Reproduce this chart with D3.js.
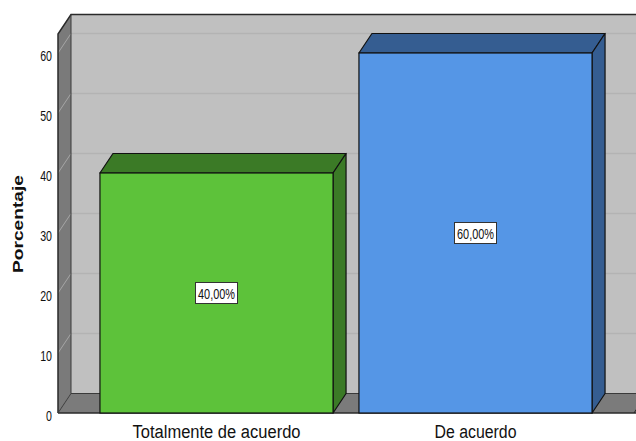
<!DOCTYPE html>
<html>
<head>
<meta charset="utf-8">
<script src="https://cdn.jsdelivr.net/npm/d3@7"></script>
<style>
  html, body { margin: 0; padding: 0; background: #ffffff; }
  svg { display: block; }
  text { font-family: "Liberation Sans", Arial, sans-serif; }
</style>
</head>
<body>
<svg id="chart" width="636" height="441"></svg>
<script>
// ---- Data ----
const categories = ["Totalmente de acuerdo", "De acuerdo"];
const values = [40, 60];
const valueLabels = ["40,00%", "60,00%"];
const yTicks = [0, 10, 20, 30, 40, 50, 60];
const yTitle = "Porcentaje";

// ---- Styles ----
const frontColors = ["#5dc23a", "#5596e6"];
const darkColors = ["#3b7a26", "#355d91"];
const wallColor = "#c0c0c0";
const sideColor = "#7a7a7a";
const floorColor = "#7b7b7b";

// ---- Layout ----
const W = 636, H = 441;
const x0 = 58, x1 = 634;       // front plot extent
const yBase = 413;             // front floor
const dx = 13, dy = 19.5;      // depth offset
const topFront = 34;           // front-equivalent y of wall top

const svg = d3.select("#chart");

const x = d3.scaleBand().domain(categories).range([x0, x1])
  .paddingInner(0.1).paddingOuter(0.162);
const y = d3.scaleLinear().domain([0, 60]).range([yBase, 53]);

// back wall
svg.append("rect")
  .attr("x", x0 + dx).attr("y", topFront - dy)
  .attr("width", x1 - x0 + 20).attr("height", yBase - topFront)
  .attr("fill", wallColor);

// gridlines on back wall
svg.append("g").selectAll("line").data(yTicks.filter(d => d > 0)).join("line")
  .attr("x1", x0 + dx).attr("x2", W + 20)
  .attr("y1", d => y(d) - dy).attr("y2", d => y(d) - dy)
  .attr("stroke", "#b3b3b3").attr("stroke-width", 1.5);

// left side wall
svg.append("path")
  .attr("d", `M${x0},${topFront} L${x0 + dx},${topFront - dy} L${x0 + dx},${yBase - dy} L${x0},${yBase} Z`)
  .attr("fill", sideColor);

// side wall gridline diagonals
svg.append("g").selectAll("line").data(yTicks.filter(d => d > 0)).join("line")
  .attr("x1", x0).attr("x2", x0 + dx)
  .attr("y1", d => y(d)).attr("y2", d => y(d) - dy)
  .attr("stroke", "#a6a6a6").attr("stroke-width", 1);

// floor
svg.append("path")
  .attr("d", `M${x0},${yBase} L${x0 + dx},${yBase - dy} L${x1 + dx + 20},${yBase - dy} L${x1 + 20},${yBase} Z`)
  .attr("fill", floorColor);
// floor right edge diagonal
svg.append("line")
  .attr("x1", x1).attr("y1", yBase).attr("x2", x1 + dx).attr("y2", yBase - dy)
  .attr("stroke", "#222").attr("stroke-width", 1);

// frame outlines
const frame = svg.append("g").attr("fill", "none").attr("stroke", "#2a2a2a").attr("stroke-width", 1.5);
frame.append("path").attr("d", `M${x0},${yBase} L${x0},${topFront} L${x0 + dx},${topFront - dy} L${W + 10},${topFront - dy}`);
frame.append("line").attr("x1", x0 + dx).attr("x2", x0 + dx).attr("y1", topFront - dy).attr("y2", yBase - dy)
  .attr("stroke", "#3a3a3a").attr("stroke-width", 1);
frame.append("line").attr("x1", x0).attr("x2", W + 10).attr("y1", yBase).attr("y2", yBase);
frame.append("path").attr("d", `M${x0},${yBase} L${x0 + dx},${yBase - dy} L${W + 10},${yBase - dy}`)
  .attr("stroke", "#3a3a3a").attr("stroke-width", 1);

// bars
const bw = x.bandwidth();
const bars = svg.append("g").selectAll("g").data(categories).join("g");
bars.append("path") // top
  .attr("d", (c, i) => {
    const bx = x(c), by = y(values[i]);
    return `M${bx},${by} L${bx + dx},${by - dy} L${bx + bw + dx},${by - dy} L${bx + bw},${by} Z`;
  })
  .attr("fill", (c, i) => darkColors[i]).attr("stroke", "#111").attr("stroke-width", 1.2).attr("stroke-linejoin", "round");
bars.append("path") // side
  .attr("d", (c, i) => {
    const bx = x(c) + bw, by = y(values[i]);
    return `M${bx},${by} L${bx + dx},${by - dy} L${bx + dx},${yBase - dy} L${bx},${yBase} Z`;
  })
  .attr("fill", (c, i) => darkColors[i]).attr("stroke", "#111").attr("stroke-width", 1.2).attr("stroke-linejoin", "round");
bars.append("rect") // front
  .attr("x", c => x(c)).attr("y", (c, i) => y(values[i]))
  .attr("width", bw).attr("height", (c, i) => yBase - y(values[i]))
  .attr("fill", (c, i) => frontColors[i]).attr("stroke", "#111").attr("stroke-width", 1.2);

// value labels
const lab = svg.append("g").selectAll("g").data(categories).join("g")
  .attr("transform", (c, i) => `translate(${x(c) + bw / 2},${y(values[i] / 2)})`);
lab.append("rect")
  .attr("x", -21).attr("y", -10.5).attr("width", 42).attr("height", 21)
  .attr("fill", "#ffffff").attr("stroke", "#333").attr("stroke-width", 1);
lab.append("text")
  .attr("text-anchor", "middle").attr("y", 5.5)
  .attr("font-size", 14.5).attr("fill", "#111")
  .attr("textLength", 37).attr("lengthAdjust", "spacingAndGlyphs")
  .text((c, i) => valueLabels[i]);

// y axis
const yAxis = d3.axisLeft(y).tickValues(yTicks).tickSize(0).tickPadding(6).tickFormat(d3.format("d"));
const gy = svg.append("g").attr("transform", `translate(${x0},0)`).call(yAxis);
gy.select(".domain").remove();
gy.selectAll("text")
  .attr("font-size", 14).attr("fill", "#111").attr("font-family", "Liberation Sans, Arial, sans-serif")
  .attr("dy", "0.55em")
  .attr("textLength", d => String(d).length * 5.9).attr("lengthAdjust", "spacingAndGlyphs");

// x axis
const xAxis = d3.axisBottom(x).tickSize(0).tickPadding(0);
const gx = svg.append("g").attr("transform", `translate(0,${yBase})`).call(xAxis);
gx.select(".domain").remove();
const catLen = { "Totalmente de acuerdo": 168, "De acuerdo": 82 };
gx.selectAll("text")
  .attr("font-size", 18).attr("fill", "#111").attr("font-family", "Liberation Sans, Arial, sans-serif")
  .attr("y", 25).attr("dy", 0)
  .attr("textLength", d => catLen[d]).attr("lengthAdjust", "spacingAndGlyphs");

// y title
svg.append("text")
  .attr("transform", `translate(23,224) rotate(-90)`)
  .attr("text-anchor", "middle").attr("font-size", 15).attr("font-weight", "bold").attr("fill", "#111")
  .attr("textLength", 98).attr("lengthAdjust", "spacingAndGlyphs")
  .text(yTitle);
</script>
</body>
</html>
